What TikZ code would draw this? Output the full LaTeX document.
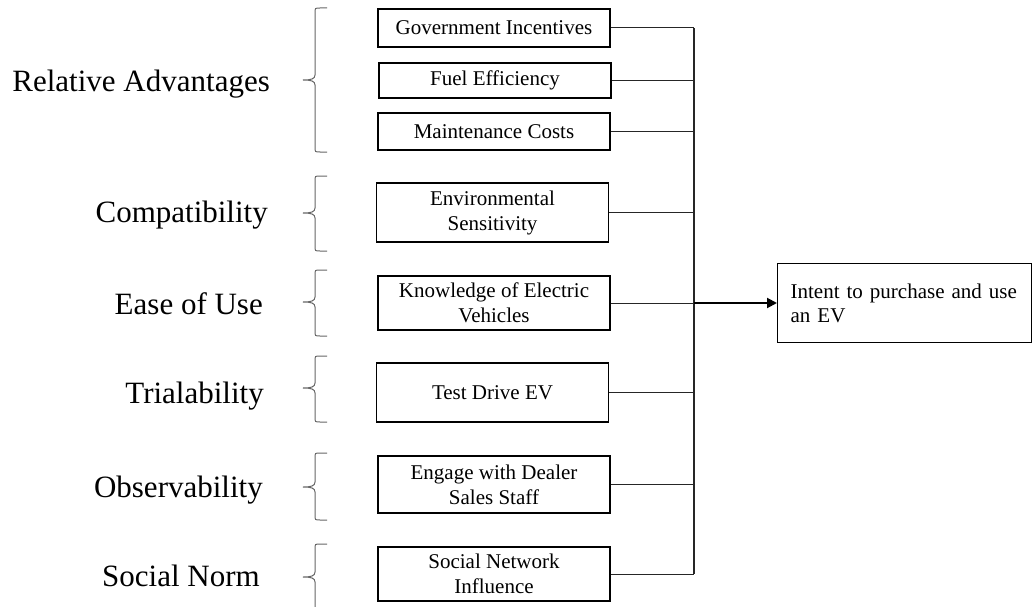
\documentclass[tikz,border=0pt]{standalone}
\usepackage{fontspec}
\setmainfont{Liberation Serif}
\usetikzlibrary{arrows.meta}
\begin{document}
\begin{tikzpicture}[x=1pt,y=-1pt,
  fbox/.style={draw=black,line width=1.3pt,minimum width=232pt,inner sep=2pt,align=center,font=\fontsize{21}{25}\selectfont},
  catlabel/.style={anchor=base east,inner sep=0pt,font=\fontsize{31}{37}\selectfont},
  bracestyle/.style={draw=black!60,line width=1pt},
  conn/.style={draw=black!85,line width=1pt}]
\useasboundingbox (0,0) rectangle (1033,607);
\newcommand\sbrace[3]{%
  \draw[bracestyle] (327,#1) -- (320,#1) .. controls (315,#1) .. (315,#1+5) -- (315,#2-5)
    .. controls (315,#2-1) and (311,#2) .. (303,#2) .. controls (311,#2) and (315,#2+1) .. (315,#2+5)
    -- (315,#3-5) .. controls (315,#3) .. (320,#3) -- (327,#3);}
% category labels
\node[catlabel] (ra) at (270,92) {Relative Advantages};
\node[catlabel] (comp) at (268,222) {Compatibility};
\node[catlabel] (ease) at (263,314) {Ease of Use};
\node[catlabel] (trial) at (264,403) {Trialability};
\node[catlabel] (obs) at (263,497) {Observability};
\node[catlabel] (sn) at (260,586) {Social Norm};
% braces
\sbrace{8}{80}{152}
\sbrace{176}{213}{251}
\sbrace{270}{302}{336}
\sbrace{356}{388}{422}
\sbrace{453}{487}{520}
\draw[bracestyle] (327,544) -- (320,544) .. controls (315,544) .. (315,549) -- (315,572)
    .. controls (315,576) and (311,577) .. (303,577) .. controls (311,577) and (315,578) .. (315,582)
    -- (315,610);
% factor boxes
\node[fbox,minimum height=38pt] (gov) at (494,28) {Government Incentives};
\node[fbox,minimum height=35pt] (fuel) at (495,80.5) {Fuel Efficiency};
\node[fbox,minimum height=37pt] (maint) at (494,131.5) {Maintenance Costs};
\node[fbox,minimum height=59pt] (env) at (492.5,212.5) {Environmental\\Sensitivity};
\node[fbox,minimum height=54pt] (know) at (494,303) {Knowledge of Electric\\Vehicles};
\node[fbox,minimum height=59pt] (test) at (492.5,392.5) {Test Drive EV};
\node[fbox,minimum height=57pt] (eng) at (494,484.5) {Engage with Dealer\\Sales Staff};
\node[fbox,minimum height=54pt] (soc) at (494,574) {Social Network\\Influence};
% target
\node[draw=black,line width=1.3pt,minimum width=254pt,minimum height=79pt,text width=228pt,inner xsep=13pt,inner ysep=2pt,align=left,anchor=north west,font=\fontsize{21}{24}\selectfont] (tgt) at (777,263) {Intent to purchase and use\\an EV};
% connectors
\coordinate (trunk) at (694,0);
\foreach \b in {gov,fuel,maint,env,know,test,eng,soc}
  \draw[conn] (\b.east) -- (\b.east -| trunk);
\draw[conn,line width=1.3pt] (gov.east -| trunk) -- (soc.east -| trunk);
\draw[draw=black,line width=2pt,-{Triangle[length=10pt,width=10pt]}] (know.east -| trunk) -- (know.east -| tgt.west);
\end{tikzpicture}
\end{document}
